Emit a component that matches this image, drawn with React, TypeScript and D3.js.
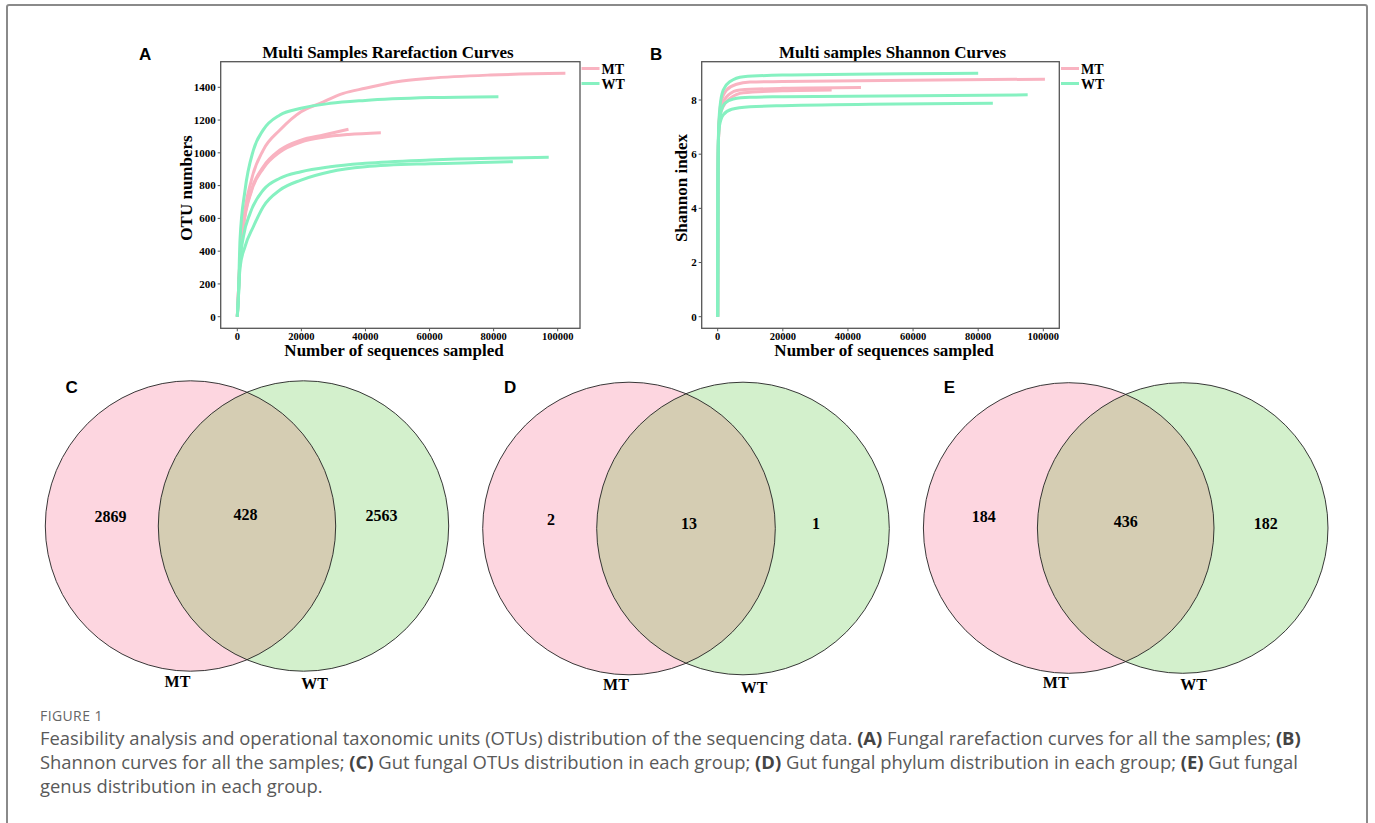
import React from 'react';
import * as d3 from 'd3';

type Pt = [number, number];

const groups = ['MT', 'WT'];
const lineColors = ['#f9b3c1', '#86f1c1'];

// rarefaction curves: [sequences sampled, OTU numbers]
const rareMT1: Pt[] = [[0, 0], [700, 300], [1800, 560], [4400, 834], [8100, 1017], [13300, 1139], [19900, 1251], [25800, 1302], [33100, 1363], [39900, 1394], [49800, 1434], [60200, 1455], [79000, 1475], [102400, 1485]];
const rareMT2: Pt[] = [[0, 0], [700, 300], [1800, 540], [4400, 773], [8100, 915], [13300, 1017], [19900, 1078], [26900, 1109], [34700, 1144]];
const rareMT3: Pt[] = [[0, 0], [700, 300], [1800, 530], [4400, 765], [8100, 905], [13300, 1005], [19900, 1066], [26900, 1095], [34700, 1112], [44800, 1123]];
const rareWT1: Pt[] = [[0, 0], [300, 110], [850, 470], [2400, 770], [5000, 1015], [8100, 1140], [13300, 1231], [19900, 1272], [29000, 1302], [39900, 1320], [60200, 1337], [81500, 1343]];
const rareWT2: Pt[] = [[0, 0], [300, 100], [850, 330], [1900, 488], [4000, 631], [8100, 773], [13300, 845], [19900, 885], [29000, 915], [39900, 936], [60200, 956], [79000, 967], [97200, 973]];
const rareWT3: Pt[] = [[0, 0], [300, 100], [850, 300], [2400, 427], [5000, 549], [8100, 671], [13300, 773], [19900, 834], [29000, 885], [39900, 915], [60200, 934], [79000, 942], [86000, 946]];

// shannon curves: [sequences sampled, shannon index]
const shanMT1: Pt[] = [[0, 0], [80, 4.8], [250, 6.6], [600, 7.5], [1200, 8.0], [2750, 8.37], [5800, 8.58], [9900, 8.66], [19900, 8.68], [50800, 8.72], [100500, 8.77]];
const shanMT2: Pt[] = [[0, 0], [80, 4.8], [250, 6.6], [600, 7.4], [1200, 7.75], [3300, 8.19], [6800, 8.37], [19900, 8.43], [44000, 8.46]];
const shanMT3: Pt[] = [[0, 0], [80, 4.8], [250, 6.6], [600, 7.35], [1200, 7.63], [3800, 8.06], [7900, 8.27], [19900, 8.34], [35000, 8.37]];
const shanWT1: Pt[] = [[0, 0], [80, 5.0], [250, 6.8], [700, 7.75], [1700, 8.37], [3800, 8.68], [7900, 8.86], [19900, 8.92], [80000, 8.99]];
const shanWT2: Pt[] = [[0, 0], [80, 4.9], [250, 6.7], [700, 7.39], [2200, 7.88], [4800, 8.04], [9900, 8.1], [19900, 8.12], [95200, 8.19]];
const shanWT3: Pt[] = [[0, 0], [80, 4.8], [250, 6.6], [500, 7.02], [1700, 7.45], [4300, 7.66], [9900, 7.75], [19900, 7.79], [84500, 7.88]];

const rareCurves = [
  { group: 0, pts: rareMT1 }, { group: 0, pts: rareMT2 }, { group: 0, pts: rareMT3 },
  { group: 1, pts: rareWT1 }, { group: 1, pts: rareWT2 }, { group: 1, pts: rareWT3 },
];
const shanCurves = [
  { group: 0, pts: shanMT1 }, { group: 0, pts: shanMT2 }, { group: 0, pts: shanMT3 },
  { group: 1, pts: shanWT1 }, { group: 1, pts: shanWT2 }, { group: 1, pts: shanWT3 },
];

const xTicks = [0, 20000, 40000, 60000, 80000, 100000];
const rareYTicks = [0, 200, 400, 600, 800, 1000, 1200, 1400];
const shanYTicks = [0, 2, 4, 6, 8];

// venn counts: [MT only, shared, WT only]
const vennOTU = [2869, 428, 2563];
const vennPhylum = [2, 13, 1];
const vennGenus = [184, 436, 182];

const SERIF = '"Liberation Serif", "Times New Roman", serif';
const SANS = '"Liberation Sans", Arial, sans-serif';
const CAPTION = '"Open Sans", "Noto Sans", sans-serif';

function LinePanel(props: any) {
  const { box, xRange, yRange, yDomain, yTicks, curves, title, titleX, xLabel, xLabelX, yLabel, yLabelX, letter, letterX, legendX } = props;
  const x = d3.scaleLinear().domain([0, 100000]).range(xRange);
  const y = d3.scaleLinear().domain(yDomain).range(yRange);
  const line = d3.line<Pt>().x(d => x(d[0])).y(d => y(d[1])).curve(d3.curveMonotoneX);
  const [bx0, by0, bx1, by1] = box;
  return (
    <g>
      <text x={letterX} y={60} fontFamily={SANS} fontWeight="bold" fontSize={17}>{letter}</text>
      <text x={titleX} y={58} textAnchor="middle" fontFamily={SERIF} fontWeight="bold" fontSize={17}>{title}</text>
      {curves.filter((c: any) => c.group === 0).map((c: any, i: number) => (
        <path key={'p' + i} d={line(c.pts) || ''} fill="none" stroke={lineColors[0]} strokeWidth={3} />
      ))}
      {curves.filter((c: any) => c.group === 1).map((c: any, i: number) => (
        <path key={'g' + i} d={line(c.pts) || ''} fill="none" stroke={lineColors[1]} strokeWidth={3} />
      ))}
      <rect x={bx0} y={by0} width={bx1 - bx0} height={by1 - by0} fill="none" stroke="#555" strokeWidth={1.3} />
      {yTicks.map((t: number) => (
        <g key={'y' + t}>
          <line x1={bx0 - 3} x2={bx0} y1={y(t)} y2={y(t)} stroke="#555" strokeWidth={1} />
          <text x={bx0 - 5} y={y(t) + 3.8} textAnchor="end" fontFamily={SERIF} fontWeight="bold" fontSize={11}>{t}</text>
        </g>
      ))}
      {xTicks.map((t: number) => (
        <g key={'x' + t}>
          <line x1={x(t)} x2={x(t)} y1={by1} y2={by1 + 3} stroke="#555" strokeWidth={1} />
          <text x={x(t)} y={by1 + 11.5} textAnchor="middle" fontFamily={SERIF} fontWeight="bold" fontSize={10.5}>{t}</text>
        </g>
      ))}
      <text x={xLabelX} y={356} textAnchor="middle" fontFamily={SERIF} fontWeight="bold" fontSize={17}>{xLabel}</text>
      <text transform={`translate(${yLabelX},188) rotate(-90)`} textAnchor="middle" fontFamily={SERIF} fontWeight="bold" fontSize={17}>{yLabel}</text>
      {groups.map((g, i) => (
        <g key={g}>
          <line x1={legendX} x2={legendX + 18} y1={68.5 + i * 15} y2={68.5 + i * 15} stroke={lineColors[i]} strokeWidth={3} />
          <text x={legendX + 20} y={73.5 + i * 15} fontFamily={SERIF} fontWeight="bold" fontSize={14}>{g}</text>
        </g>
      ))}
    </g>
  );
}

const vennFill = ['#fdd6e0', '#d3f0cc'];
const vennOverlap = '#d5cdb3';

function Venn(props: any) {
  const { id, cx, cy, r, d, counts, letter, labelDx, labelDy, nameDy } = props;
  const lx = cx, rx = cx + d;
  const pos = [lx + labelDx[0], (lx + rx) / 2 + labelDx[1], rx + labelDx[2]];
  return (
    <g>
      <defs>
        <clipPath id={id}><circle cx={lx} cy={cy} r={r} /></clipPath>
      </defs>
      <circle cx={lx} cy={cy} r={r} fill={vennFill[0]} />
      <circle cx={rx} cy={cy} r={r} fill={vennFill[1]} />
      <circle cx={rx} cy={cy} r={r} fill={vennOverlap} clipPath={`url(#${id})`} />
      <circle cx={lx} cy={cy} r={r} fill="none" stroke="#222" strokeWidth={0.9} />
      <circle cx={rx} cy={cy} r={r} fill="none" stroke="#222" strokeWidth={0.9} />
      {counts.map((c: number, i: number) => (
        <text key={i} x={pos[i]} y={cy + labelDy[i]} textAnchor="middle" fontFamily={SERIF} fontWeight="bold" fontSize={16}>{c}</text>
      ))}
      <text x={lx - 13} y={cy + r + nameDy[0]} textAnchor="middle" fontFamily={SERIF} fontWeight="bold" fontSize={16}>{groups[0]}</text>
      <text x={rx + 11} y={cy + r + nameDy[1]} textAnchor="middle" fontFamily={SERIF} fontWeight="bold" fontSize={16}>{groups[1]}</text>
      <text x={lx - 125} y={393} fontFamily={SANS} fontWeight="bold" fontSize={17}>{letter}</text>
    </g>
  );
}

export default function App() {
  const capLines: [string, boolean][][] = [
    [['Feasibility analysis and operational taxonomic units (OTUs) distribution of the sequencing data. ', false], ['(A)', true], [' Fungal rarefaction curves for all the samples; ', false], ['(B)', true]],
    [['Shannon curves for all the samples; ', false], ['(C)', true], [' Gut fungal OTUs distribution in each group; ', false], ['(D)', true], [' Gut fungal phylum distribution in each group; ', false], ['(E)', true], [' Gut fungal', false]],
    [['genus distribution in each group.', false]],
  ];
  return (
    <svg width={1375} height={823} style={{ position: 'absolute', left: 0, top: 0, background: '#fff' }}>
      <rect x={7} y={5} width={1360} height={840} fill="#fff" stroke="#8a8a8a" strokeWidth={2} rx={2} />
      <LinePanel
        box={[220.7, 61.7, 580, 328.3]} xRange={[237.3, 557.7]} yRange={[316.7, 87.3]} yDomain={[0, 1400]}
        yTicks={rareYTicks} curves={rareCurves} title="Multi Samples Rarefaction Curves" titleX={388}
        xLabel="Number of sequences sampled" xLabelX={394} yLabel="OTU numbers" yLabelX={192} letter="A" letterX={139} legendX={581.5}
      />
      <LinePanel
        box={[701.7, 61.7, 1059.3, 328.3]} xRange={[717.7, 1043.3]} yRange={[316.7, 100]} yDomain={[0, 8]}
        yTicks={shanYTicks} curves={shanCurves} title="Multi samples Shannon Curves" titleX={892.5}
        xLabel="Number of sequences sampled" xLabelX={884} yLabel="Shannon index" yLabelX={687} letter="B" letterX={650} legendX={1061}
      />
      <Venn id="vc" cx={190.5} cy={526} r={145.2} d={113} counts={vennOTU} letter="C"
        labelDx={[-80, -1.5, 78]} labelDy={[-4, -6, -5]} nameDy={[16, 18]} />
      <Venn id="vd" cx={629} cy={528.5} r={146.3} d={114} counts={vennPhylum} letter="D"
        labelDx={[-78, 3, 73]} labelDy={[-3.5, 0, 0]} nameDy={[15, 18]} />
      <Venn id="ve" cx={1068.7} cy={528} r={145.3} d={114} counts={vennGenus} letter="E"
        labelDx={[-85, 0, 83]} labelDy={[-6, -1.5, 1]} nameDy={[15, 17]} />
      <text x={40} y={720.5} fontFamily={CAPTION} fontSize={14} fill="#666" letterSpacing={0.4}>FIGURE 1</text>
      {capLines.map((ln, i) => (
        <text key={i} x={40} y={745 + i * 24} fontFamily={CAPTION} fontSize={18.4} fill="#595959">
          {ln.map(([s, b], j) => (
            <tspan key={j} fontWeight={b ? 'bold' : 'normal'} fill={b ? '#444' : '#595959'}>{s}</tspan>
          ))}
        </text>
      ))}
    </svg>
  );
}
